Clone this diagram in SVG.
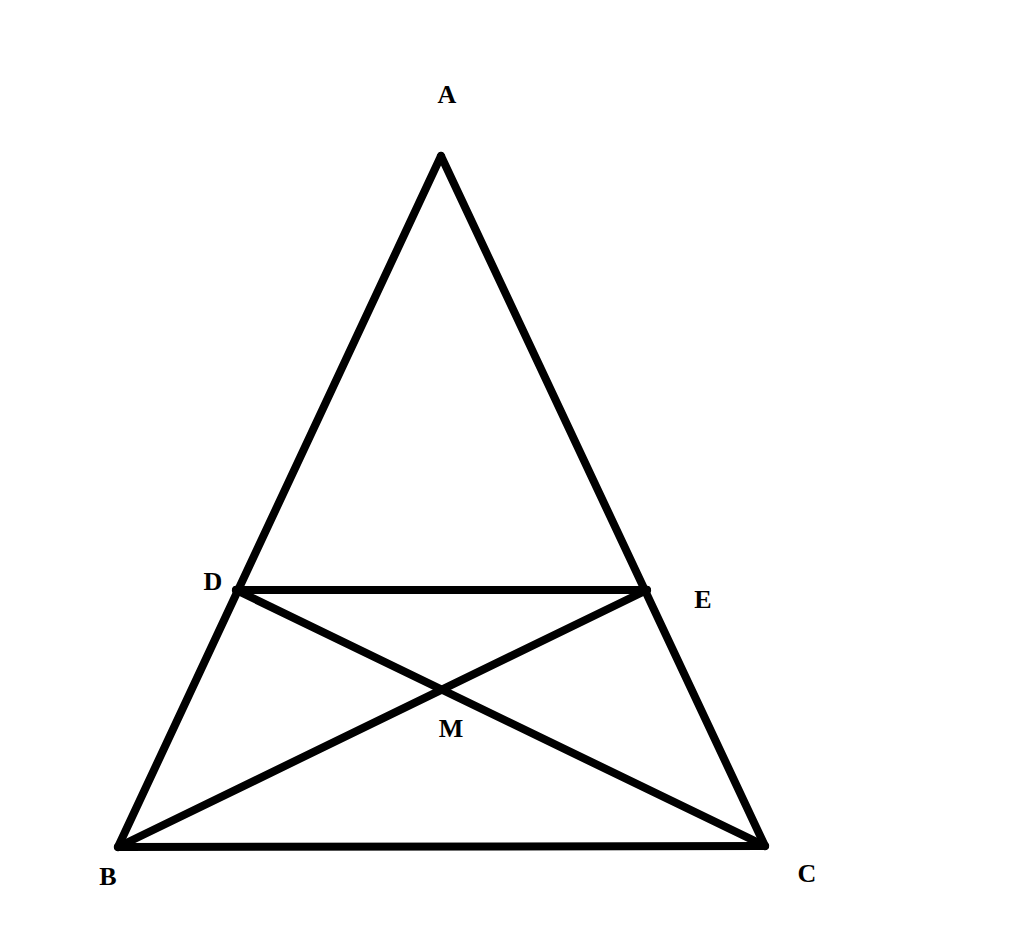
<svg xmlns="http://www.w3.org/2000/svg" width="1024" height="929" viewBox="0 0 1024 929">
<style>
.s{stroke:#000;stroke-width:8;stroke-linecap:round;fill:none}
.l{font-family:"Liberation Serif",serif;font-weight:bold;font-size:26px;fill:#000;text-anchor:middle}
</style>
<rect width="1024" height="929" fill="#fff"/>
<g id="connectors">
<line class="s" x1="441" y1="156" x2="118" y2="847"/>
<line class="s" x1="441" y1="156" x2="765" y2="846"/>
<line class="s" x1="118" y1="847" x2="765" y2="846"/>
<line class="s" x1="236" y1="590" x2="647" y2="590"/>
<line class="s" x1="236" y1="590" x2="765" y2="846"/>
<line class="s" x1="647" y1="590" x2="118" y2="847"/>
</g>
<g id="A"><text class="l" x="447" y="103">A</text></g>
<g id="D"><text class="l" x="213" y="590">D</text></g>
<g id="E"><text class="l" x="703" y="608">E</text></g>
<g id="B"><text class="l" x="108" y="885">B</text></g>
<g id="C"><text class="l" x="807" y="882">C</text></g>
<g id="M"><text class="l" x="451" y="737">M</text></g>
</svg>
